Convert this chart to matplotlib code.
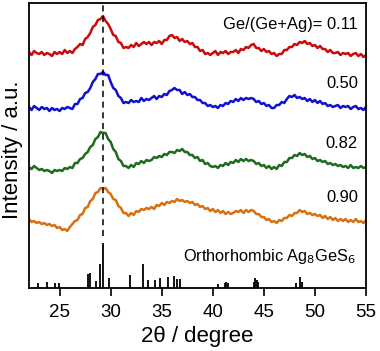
import numpy as np
import matplotlib
matplotlib.use("Agg")
import matplotlib.pyplot as plt

plt.rcParams['font.family'] = ['Liberation Sans', 'DejaVu Sans']

angles = np.arange(22, 55.001, 0.25)

red = [236, 233, 237, 235, 234, 236, 233, 235,
       234, 232, 236, 234, 236, 234, 238, 235,
       237, 235, 239, 241, 244, 243, 249, 251,
       255, 261, 263, 268, 269, 272, 267, 264,
       259, 253, 252, 246, 245, 240, 241, 240,
       243, 241, 245, 242, 244, 246, 244, 246,
       243, 246, 245, 247, 244, 248, 248, 252,
       253, 250, 251, 247, 249, 246, 247, 244,
       245, 241, 241, 237, 238, 234, 235, 233,
       235, 237, 233, 236, 235, 237, 234, 236,
       236, 238, 235, 239, 238, 241, 240, 243,
       244, 240, 240, 237, 239, 236, 237, 234,
       235, 232, 234, 234, 238, 238, 241, 241,
       244, 243, 246, 245, 247, 244, 245, 242,
       243, 240, 242, 239, 239, 236, 238, 235,
       235, 236, 233, 235, 234, 235, 232, 234,
       235, 232, 234, 231, 233]
blue = [181, 178, 182, 180, 178, 181, 179, 180,
        177, 180, 178, 179, 177, 180, 179, 181,
        180, 179, 184, 184, 189, 190, 195, 196,
        200, 206, 209, 214, 214, 216, 213, 213,
        206, 200, 198, 192, 190, 185, 186, 185,
        188, 186, 187, 186, 190, 187, 189, 188,
        190, 192, 189, 192, 191, 194, 193, 197,
        198, 200, 198, 198, 194, 196, 193, 194,
        191, 191, 188, 188, 185, 185, 182, 183,
        181, 182, 180, 183, 182, 185, 184, 187,
        186, 189, 187, 190, 188, 190, 189, 190,
        189, 186, 187, 184, 185, 182, 183, 180,
        180, 183, 183, 186, 185, 189, 192, 191,
        193, 190, 191, 189, 190, 187, 189, 186,
        188, 185, 187, 184, 185, 182, 183, 181,
        182, 183, 180, 182, 181, 182, 179, 181,
        182, 179, 180, 178, 181]
green = [121, 119, 122, 120, 118, 119, 117, 118,
         117, 115, 118, 117, 118, 117, 120, 119,
         121, 120, 125, 125, 129, 130, 134, 136,
         141, 143, 149, 151, 156, 155, 155, 149,
         146, 139, 136, 129, 127, 122, 122, 120,
         123, 121, 125, 124, 127, 125, 128, 127,
         128, 131, 130, 132, 131, 134, 133, 136,
         136, 135, 138, 137, 139, 136, 136, 133,
         133, 130, 131, 127, 128, 124, 125, 122,
         121, 122, 120, 123, 122, 125, 123, 126,
         125, 128, 126, 129, 127, 129, 127, 128,
         127, 124, 125, 122, 123, 120, 122, 119,
         121, 119, 123, 122, 126, 126, 130, 130,
         133, 132, 135, 133, 134, 131, 132, 129,
         130, 127, 128, 126, 127, 124, 125, 123,
         124, 122, 123, 121, 122, 120, 123, 120,
         121, 120, 122, 120, 121]
orange = [69, 66, 67, 65, 66, 64, 65, 63,
          64, 62, 63, 60, 61, 58, 59, 57,
          61, 64, 67, 68, 73, 74, 80, 81,
          87, 89, 95, 96, 100, 99, 100, 96,
          94, 89, 88, 82, 80, 75, 75, 72,
          75, 73, 77, 76, 79, 78, 80, 79,
          81, 79, 83, 82, 85, 83, 86, 85,
          87, 86, 89, 87, 88, 86, 87, 85,
          86, 83, 84, 81, 82, 79, 80, 77,
          79, 76, 78, 75, 77, 74, 76, 74,
          75, 77, 76, 78, 75, 78, 76, 78,
          77, 74, 74, 71, 71, 68, 69, 66,
          67, 65, 68, 67, 70, 70, 73, 72,
          75, 75, 78, 76, 77, 74, 75, 73,
          74, 72, 73, 70, 72, 69, 71, 68,
          70, 67, 69, 67, 69, 66, 68, 66,
          69, 66, 67, 65, 68]

series = [red, blue, green, orange]
colors = ['#cc0a0a', '#1010d0', '#1d6b1d', '#d9700f']
labels = ['Ge/(Ge+Ag)= 0.11', '0.50', '0.82', '0.90']
label_y = [263, 205, 145, 91]

stick_pos = [22.85, 23.73, 24.55, 24.97, 27.75, 27.95, 28.57, 28.96, 29.25, 29.8,
             31.9, 33.2, 33.7, 34.35, 34.8, 35.6, 36.2, 36.5, 36.8,
             40.5, 41.15, 41.3, 41.5, 44.0, 44.15, 44.3, 44.45, 48.15, 48.5, 48.7]
stick_h = [5, 6, 5, 5, 14, 15, 7, 24, 45, 10,
           13, 24, 8, 8, 10, 11, 12, 9, 9,
           4, 5, 6, 5, 6, 10, 8, 6, 5, 11, 6]

fig = plt.figure(figsize=(3.8, 3.51), dpi=100)
ax = fig.add_axes([29/380, 63/351, 337/380, 285/351])

for s, c in zip(series, colors):
    ax.plot(angles, s, color=c, lw=1.8)

ax.vlines(stick_pos, 0, stick_h, color='black', lw=1.3)
ax.plot([29.2, 29.2], [52, 285], color='black', lw=1.1, ls=(0, (4, 3)))

for t, y in zip(labels, label_y):
    ax.text(54.2, y, t, ha='right', va='center', fontsize=11.9)
ax.text(54.0, 31, 'Orthorhombic Ag$_8$GeS$_6$', ha='right', va='center', fontsize=11.8)

ax.set_xlim(22, 55)
ax.set_ylim(0, 285)
ax.set_xticks([25, 30, 35, 40, 45, 50, 55])
ax.set_yticks([])
ax.tick_params(axis='x', direction='out', length=6, width=1.2, labelsize=13.5, pad=5.5)
for sp in ax.spines.values():
    sp.set_linewidth(1.3)
ax.set_xlabel('2θ / degree', fontsize=16, labelpad=3.5)
ax.set_ylabel('Intensity / a.u.', fontsize=16)
ax.yaxis.set_label_coords(-0.018, 0.484)

fig.savefig('out.png', dpi=100)
